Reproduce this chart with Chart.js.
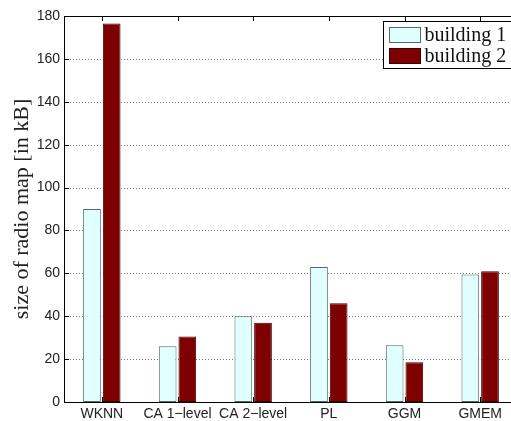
<!DOCTYPE html>
<html>
<head>
<meta charset="utf-8">
<script src="https://cdn.jsdelivr.net/npm/chart.js@4/dist/chart.umd.min.js"></script>
<style>
  html, body { margin: 0; padding: 0; background: #fff; overflow: hidden; width: 511px; height: 421px; }
  canvas { display: block; }
</style>
</head>
<body>
<canvas id="c" width="524" height="421"></canvas>
<script>
// Radio map size per localisation method, in kB
const methods = ['WKNN', 'CA 1\u2212level', 'CA 2\u2212level', 'PL', 'GGM', 'GMEM'];
const building1 = [90, 26, 40, 63, 26.5, 59.5];
const building2 = [176.5, 30.5, 37, 46, 18.5, 61];
const seriesNames = ['building 1', 'building 2'];
const yTickValues = [0, 20, 40, 60, 80, 100, 120, 140, 160, 180];

const sansFont = "'Liberation Sans', Arial, sans-serif";
const serifFont = "'Liberation Serif', 'Times New Roman', serif";

// Dotted horizontal grid behind the bars
const dottedGrid = {
  id: 'dottedGrid',
  beforeDatasetsDraw(chart) {
    const { ctx, chartArea: a, scales: { y } } = chart;
    ctx.save();
    ctx.strokeStyle = '#7a7a7a';
    ctx.lineWidth = 1;
    ctx.setLineDash([1, 2]);
    ctx.beginPath();
    yTickValues.forEach(v => {
      const py = Math.round(y.getPixelForValue(v)) + 0.5;
      ctx.moveTo(a.left, py);
      ctx.lineTo(a.right, py);
    });
    ctx.stroke();
    ctx.restore();
  }
};

// Box frame, inward tick marks and the in-plot legend
const framePlugin = {
  id: 'frame',
  afterDraw(chart) {
    const { ctx, chartArea: a, scales: { x, y } } = chart;
    ctx.save();
    ctx.strokeStyle = '#000';
    ctx.lineWidth = 1;
    ctx.beginPath();
    ctx.rect(Math.round(a.left) + 0.5, Math.round(a.top) + 0.5,
             Math.round(a.right - a.left), Math.round(a.bottom - a.top));
    ctx.stroke();

    ctx.beginPath();
    yTickValues.forEach(v => {
      const py = Math.round(y.getPixelForValue(v)) + 0.5;
      ctx.moveTo(a.left, py); ctx.lineTo(a.left + 5, py);
      ctx.moveTo(a.right, py); ctx.lineTo(a.right - 5, py);
    });
    methods.forEach((m, i) => {
      const px = Math.round(x.getPixelForValue(i)) + 0.5;
      ctx.moveTo(px, a.top); ctx.lineTo(px, a.top + 5);
      ctx.moveTo(px, a.bottom); ctx.lineTo(px, a.bottom - 5);
    });
    ctx.stroke();

    // legend
    const boxW = 132, boxH = 47;
    const bx = Math.round(a.right - boxW - 3) + 0.5;
    const by = Math.round(a.top + 5) + 0.5;
    ctx.fillStyle = '#fff';
    ctx.fillRect(bx, by, boxW, boxH);
    ctx.strokeStyle = '#000';
    ctx.strokeRect(bx, by, boxW, boxH);
    ctx.font = '20px ' + serifFont;
    ctx.textBaseline = 'middle';
    chart.data.datasets.forEach((ds, i) => {
      const cy = by + 13 + i * 21;
      ctx.fillStyle = ds.backgroundColor;
      ctx.fillRect(bx + 6, cy - 7, 31, 15);
      ctx.strokeStyle = ds.borderColor;
      ctx.strokeRect(bx + 6, cy - 7, 31, 15);
      ctx.fillStyle = '#111';
      ctx.fillText(ds.label, bx + 41, cy + 1);
    });
    ctx.restore();
  }
};

new Chart(document.getElementById('c'), {
  type: 'bar',
  data: {
    labels: methods,
    datasets: [
      {
        label: seriesNames[0],
        data: building1,
        backgroundColor: '#e0ffff',
        borderColor: '#5c6868',
        borderWidth: 1,
        borderSkipped: false,
        categoryPercentage: 0.52,
        barPercentage: 0.9
      },
      {
        label: seriesNames[1],
        data: building2,
        backgroundColor: '#7f0000',
        borderColor: '#3a0000',
        borderWidth: 1,
        borderSkipped: false,
        categoryPercentage: 0.52,
        barPercentage: 0.9
      }
    ]
  },
  options: {
    responsive: false,
    animation: false,
    devicePixelRatio: 1,
    layout: { padding: { left: 0, top: 16, right: 6, bottom: 0 } },
    plugins: {
      legend: { display: false },
      tooltip: { enabled: false }
    },
    scales: {
      x: {
        grid: { display: false, drawTicks: false },
        border: { display: false },
        ticks: { font: { family: sansFont, size: 14 }, color: '#222', padding: 4, maxRotation: 0, autoSkip: false },
        afterFit: s => { s.height = 19; }
      },
      y: {
        min: 0,
        max: 180,
        afterBuildTicks: s => { s.ticks = yTickValues.map(v => ({ value: v })); },
        grid: { display: false, drawTicks: false },
        border: { display: false },
        ticks: { font: { family: sansFont, size: 14 }, color: '#222', padding: 4 },
        title: {
          display: true,
          text: 'size of radio map [in kB]',
          font: { family: serifFont, size: 22 },
          color: '#222',
          padding: { top: 9, bottom: 0 }
        },
        afterFit: s => { s.width = 64; }
      }
    }
  },
  plugins: [dottedGrid, framePlugin]
});
</script>
</body>
</html>
